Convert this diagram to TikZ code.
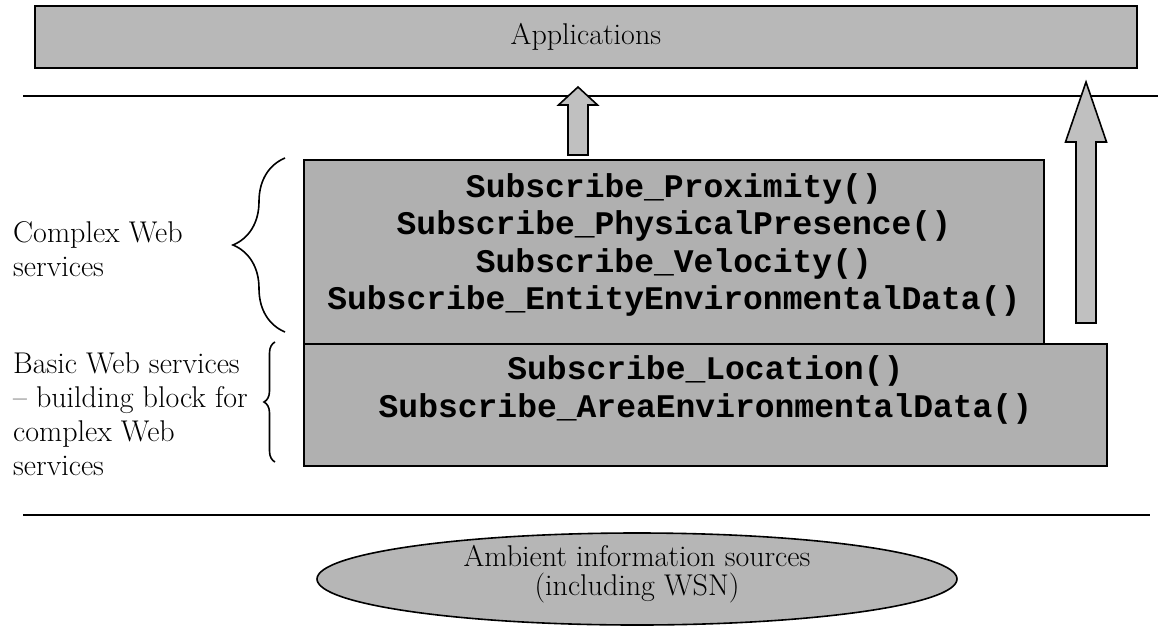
\documentclass[tikz,border=0pt]{standalone}
\usepackage{fontspec}
\newfontfamily\codefont{Liberation Mono}
\usetikzlibrary{calc,decorations.pathreplacing,shapes.geometric}
\definecolor{boxgray}{RGB}{176,176,176}
\definecolor{appgray}{RGB}{184,184,184}
\definecolor{arrowgray}{RGB}{192,192,192}
\definecolor{ovalgray}{RGB}{182,182,182}
% block arrow pointing up: #1 base, #2 tip, #3 shaft half-width, #4 head half-width, #5 head length
\newcommand\upblockarrow[5]{%
  \draw[blockarrow] ($(#1)+(-#3,0)$) -- ($(#2)+(-#3,#5)$) -- ($(#2)+(-#4,#5)$) -- (#2)
    -- ($(#2)+(#4,#5)$) -- ($(#2)+(#3,#5)$) -- ($(#1)+(#3,0)$) -- cycle;}
\begin{document}
\begin{tikzpicture}[x=1pt,y=-1pt,
  layerbox/.style={draw=black,line width=1.8pt,fill=boxgray,inner sep=0pt,anchor=north west},
  codetext/.style={font=\codefont\bfseries\fontsize{33}{37.5}\selectfont,align=center,inner sep=0pt},
  serif/.style={font=\fontsize{30}{34}\selectfont},
  sidelabel/.style={serif,align=left,inner sep=0pt,anchor=north west},
  blockarrow/.style={draw=black,line width=1.6pt,fill=arrowgray,line join=miter},
  divider/.style={line width=1.6pt},
  curly/.style={line width=1.6pt,decorate,decoration={brace,amplitude=#1}}]
\useasboundingbox (0,0) rectangle (1158,637);

% application layer
\node[layerbox,fill=appgray,minimum width=1102pt,minimum height=62pt,serif] (apps) at (34,5) {Applications};

% dividing lines
\coordinate (d1l) at (23,96);  \coordinate (d1r) at (1158,96);
\coordinate (d2l) at (23,515); \coordinate (d2r) at (1150,515);
\draw[divider] (d1l) -- (d1r);
\draw[divider] (d2l) -- (d2r);

% service layers
\node[layerbox,minimum width=740pt,minimum height=184pt] (cplx) at (303,159) {};
\node[codetext] (cplxtext) at ($(cplx.center)+(0,-7)$) {Subscribe\_Proximity()\\Subscribe\_PhysicalPresence()\\Subscribe\_Velocity()\\Subscribe\_EntityEnvironmentalData()};
\node[layerbox,minimum width=803pt,minimum height=122pt] (basic) at (303,343) {};
\node[codetext] (basictext) at ($(basic.center)+(0,-15)$) {Subscribe\_Location()\\Subscribe\_AreaEnvironmentalData()};

% arrows up to the application layer
\coordinate (a1base) at (578,155); \coordinate (a1tip) at (578,87);
\coordinate (a2base) at (1086,323); \coordinate (a2tip) at (1086,82);
\upblockarrow{a1base}{a1tip}{10}{19.5}{18}
\upblockarrow{a2base}{a2tip}{10}{20.5}{60}

% side labels with braces
\node[sidelabel] (cplxlabel) at (13,221) {Complex Web\\services};
\node[sidelabel] (basiclabel) at (13,352) {Basic Web services\\-- building block for\\complex Web\\services};
\coordinate (b1top) at (285,158); \coordinate (b1bot) at (285,332);
\coordinate (b2top) at (275,342); \coordinate (b2bot) at (275,462);
\draw[curly=52pt] (b1bot) -- (b1top);
\draw[curly=11pt] (b2bot) -- (b2top);

% information sources
\node[draw=black,line width=1.6pt,fill=ovalgray,ellipse,minimum width=640pt,minimum height=92pt,inner sep=0pt] (src) at (637,579) {};
\node[serif,font=\fontsize{30}{29}\selectfont,align=center,inner sep=0pt] (srctext) at ($(src.center)+(0,-5)$) {Ambient information sources\\(including WSN)};
\end{tikzpicture}
\end{document}
